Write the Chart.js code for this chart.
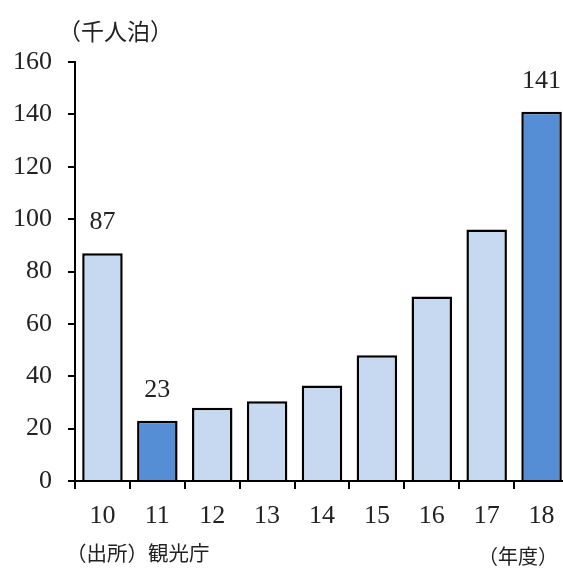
<!DOCTYPE html>
<html lang="ja">
<head>
    <meta charset="UTF-8">
    <title>観光客数</title>
    <style>
        html, body {
            margin: 0;
            padding: 0;
            background: #fff;
            overflow: hidden;
            width: 563px;
            height: 572px;
        }
        #wrap {
            position: relative;
            width: 563px;
            height: 572px;
        }
        #chart {
            position: absolute;
            left: 0;
            top: 0;
        }
        .note {
            position: absolute;
            font-family: "Noto Sans CJK JP", sans-serif;
            color: #222;
            white-space: nowrap;
            line-height: 1;
        }
    </style>
    <script src="https://cdn.jsdelivr.net/npm/chart.js"></script>
</head>
<body>
<div id="wrap">
    <canvas id="chart" width="575" height="572"></canvas>
    <div class="note" style="left:58px; top:19px; font-size:23px;">（千人泊）</div>
    <div class="note" style="left:66px; top:542px; font-size:20.5px;">（出所）観光庁</div>
    <div class="note" style="left:478px; top:546px; font-size:20px;">（年度）</div>
</div>
<script>
    // data
    const years = ['10', '11', '12', '13', '14', '15', '16', '17', '18'];
    const guests = [87, 23, 28, 30.5, 36.5, 48, 70.5, 96, 141];
    const highlight = [false, true, false, false, false, false, false, false, true];
    const labelled = [0, 1, 8];
    const yTicks = [0, 20, 40, 60, 80, 100, 120, 140, 160];

    const LIGHT = '#c6d9f0';
    const DARK = '#558ed5';
    const numFont = { family: '"Liberation Serif", serif', size: 26 };

    const valueLabels = {
        id: 'valueLabels',
        afterDatasetsDraw(chart) {
            const ctx = chart.ctx;
            const meta = chart.getDatasetMeta(0);
            ctx.save();
            ctx.font = '26px "Liberation Serif", serif';
            ctx.fillStyle = '#222';
            ctx.textAlign = 'center';
            ctx.textBaseline = 'middle';
            labelled.forEach(i => {
                const bar = meta.data[i];
                ctx.fillText(String(guests[i]), bar.x, bar.y - 31);
            });
            ctx.restore();
        }
    };

    new Chart(document.getElementById('chart'), {
        type: 'bar',
        data: {
            labels: years,
            datasets: [{
                data: guests,
                backgroundColor: highlight.map(h => h ? DARK : LIGHT),
                borderColor: '#000',
                borderWidth: 2.5,
                borderSkipped: 'bottom',
                barPercentage: 0.82,
                categoryPercentage: 0.9
            }]
        },
        options: {
            responsive: false,
            animation: false,
            layout: { padding: { top: 62, right: 6, left: 0, bottom: 0 } },
            plugins: {
                legend: { display: false },
                tooltip: { enabled: false }
            },
            scales: {
                x: {
                    offset: true,
                    grid: {
                        offset: true,
                        drawOnChartArea: false,
                        drawTicks: true,
                        tickLength: 8,
                        color: '#000',
                        lineWidth: 2
                    },
                    border: { display: true, color: '#000', width: 2 },
                    ticks: {
                        color: '#222',
                        font: numFont,
                        padding: 12,
                        maxRotation: 0
                    },
                    afterFit(axis) { axis.height = 91; }
                },
                y: {
                    min: 0,
                    max: 160,
                    afterBuildTicks(axis) {
                        axis.ticks = yTicks.map(v => ({ value: v }));
                    },
                    grid: {
                        drawOnChartArea: false,
                        drawTicks: true,
                        tickLength: 7,
                        color: '#000',
                        lineWidth: 2
                    },
                    border: { display: true, color: '#000', width: 2 },
                    ticks: {
                        color: '#222',
                        font: numFont,
                        padding: 16
                    },
                    afterFit(axis) { axis.width = 75; }
                }
            }
        },
        plugins: [valueLabels]
    });
</script>
</body>
</html>
